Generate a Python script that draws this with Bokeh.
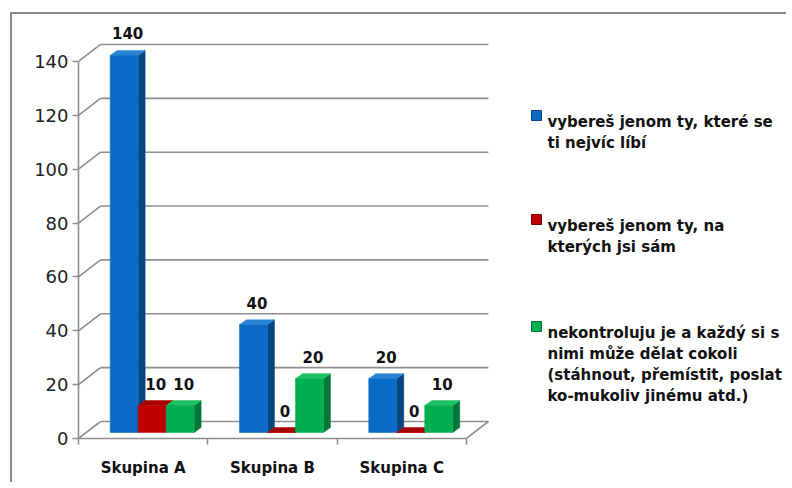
from bokeh.plotting import figure
from bokeh.models import Range1d, FixedTicker
from bokeh.core.properties import value
from bokeh.embed import file_html
from bokeh.resources import INLINE

# ---- data ----
categories = ["Skupina A", "Skupina B", "Skupina C"]
series_labels = [
    ["vybereš jenom ty, které se", "ti nejvíc líbí"],
    ["vybereš jenom ty, na", "kterých jsi sám"],
    ["nekontroluju je a každý si s", "nimi může dělat cokoli",
     "(stáhnout, přemístit, poslat", "ko-mukoliv jinému atd.)"],
]
vals_libi = [140, 40, 20]
vals_sam = [10, 0, 0]
vals_kazdy = [10, 20, 10]
series_values = [vals_libi, vals_sam, vals_kazdy]
y_ticks = [0, 20, 40, 60, 80, 100, 120, 140]

# ---- styling ----
front_cols = ["#0B6AC6", "#C00000", "#00B050"]
side_cols = ["#07457F", "#7A0000", "#00773A"]
top_cols = ["#2A84D6", "#A80000", "#1CC262"]
grid_col = "#8E8E8E"
FONT = "DejaVu Sans"

MARGIN_L, MARGIN_T = 10, 12
W, H = 776, 470
ORIGIN_X, ORIGIN_Y = MARGIN_L + 2, MARGIN_T + 2  # canvas origin on the page
LEFT = 78 - ORIGIN_X
BOTTOM = H - (438 - ORIGIN_Y)
FW, FH = W - LEFT, H - BOTTOM
XPX = 129.3   # px per category
YPX = 2.693   # px per value unit

def px_x(page_x):
    return (page_x - ORIGIN_X - LEFT) / XPX

def px_y(page_y):
    return (FH - (page_y - ORIGIN_Y)) / YPX

# 3D geometry in data units
DX, DY = 22 / XPX, 17 / YPX        # back wall depth
OX, OY = 9 / XPX, 6 / YPX          # bar row depth
EX, EY = 7 / XPX, 5 / YPX          # bar extrusion
BW = 28 / XPX                      # bar width

p = figure(width=W, height=H, output_backend="svg", toolbar_location=None,
           x_range=Range1d(0, FW / XPX), y_range=Range1d(0, FH / YPX),
           min_border_left=LEFT, min_border_bottom=BOTTOM,
           min_border_top=0, min_border_right=0)
p.styles = {"margin-left": f"{MARGIN_L}px", "margin-top": f"{MARGIN_T}px",
            "border-left": "2px solid #8A8A8A", "border-top": "2px solid #8A8A8A"}
p.outline_line_color = None
p.xgrid.visible = False
p.ygrid.visible = False
p.background_fill_color = "white"
p.border_fill_color = "white"

ncat = len(categories)

# back wall gridlines + left wall diagonals
gx0, gy0, gx1, gy1 = [], [], [], []
for t in y_ticks:
    gx0.append(DX); gy0.append(t + DY); gx1.append(ncat + DX); gy1.append(t + DY)
    gx0.append(0); gy0.append(t); gx1.append(DX); gy1.append(t + DY)
# floor right edge
gx0.append(ncat); gy0.append(0); gx1.append(ncat + DX); gy1.append(DY)
p.segment(gx0, gy0, gx1, gy1, line_color=grid_col, line_width=1.6)

# bars
xs, ys, cols = [], [], []
lab_x, lab_y, lab_t = [], [], []
for i in range(ncat):
    for s, vals in enumerate(series_values):
        v = vals[i]
        x0 = i + 0.5 - 1.5 * BW + s * BW + OX
        x1 = x0 + BW
        b = OY
        t = v + OY
        # side
        xs.append([x1, x1, x1 + EX, x1 + EX]); ys.append([b, t, t + EY, b + EY]); cols.append(side_cols[s])
        # top
        xs.append([x0, x0 + EX, x1 + EX, x1]); ys.append([t, t + EY, t + EY, t]); cols.append(top_cols[s])
        # front
        xs.append([x0, x0, x1, x1]); ys.append([b, t, t, b]); cols.append(front_cols[s])
        lab_x.append((x0 + x1) / 2 + EX / 2)
        lab_y.append(t)
        lab_t.append(str(v))
p.patches(xs, ys, fill_color=cols, line_color=cols, line_width=0.5)

p.text(lab_x, lab_y, text=lab_t, text_align="center", text_baseline="middle",
       y_offset=-22, text_font=value(FONT), text_font_style="bold",
       text_font_size="15px", text_color="#111111")

# legend (drawn manually to keep multi-line labels)
line_base = [[121, 142], [225, 246], [332, 353, 374, 395]]
lx, ly, lt = [], [], []
mx, my = [], []
for s, lines in enumerate(series_labels):
    for k, txt in enumerate(lines):
        lx.append(px_x(547)); ly.append(px_y(line_base[s][k])); lt.append(txt)
    mx.append(px_x(536)); my.append(px_y(line_base[s][0] - 6))
p.text(lx, ly, text=lt, text_align="left", text_baseline="alphabetic",
       text_font=value(FONT), text_font_style="bold", text_font_size="15px",
       text_color="#111111")
p.scatter(mx, my, marker="square", size=10, fill_color=front_cols,
          line_color=side_cols, line_width=1)

# axes
p.yaxis.ticker = FixedTicker(ticks=y_ticks)
p.yaxis.bounds = (0, y_ticks[-1])
p.yaxis.axis_line_color = grid_col
p.yaxis.axis_line_width = 1.6
p.yaxis.major_tick_line_color = grid_col
p.yaxis.major_tick_line_width = 1.6
p.yaxis.major_tick_out = 6
p.yaxis.major_tick_in = 0
p.yaxis.minor_tick_line_color = None
p.yaxis.major_label_standoff = 4
p.yaxis.major_label_text_font = FONT
p.yaxis.major_label_text_font_size = "18px"
p.yaxis.major_label_text_color = "#222222"

p.xaxis.ticker = FixedTicker(ticks=[i + 0.5 for i in range(ncat)],
                             minor_ticks=list(range(ncat + 1)))
p.xaxis.bounds = (0, ncat)
p.xaxis.major_label_overrides = {i + 0.5: c for i, c in enumerate(categories)}
p.xaxis.axis_line_color = grid_col
p.xaxis.axis_line_width = 1.6
p.xaxis.major_tick_line_color = None
p.xaxis.minor_tick_line_color = grid_col
p.xaxis.minor_tick_line_width = 1.6
p.xaxis.minor_tick_out = 6
p.xaxis.minor_tick_in = 0
p.xaxis.major_label_standoff = 14
p.xaxis.major_label_text_font = FONT
p.xaxis.major_label_text_font_style = "bold"
p.xaxis.major_label_text_font_size = "15px"
p.xaxis.major_label_text_color = "#111111"

open("out.html", "w").write(file_html(p, INLINE))
